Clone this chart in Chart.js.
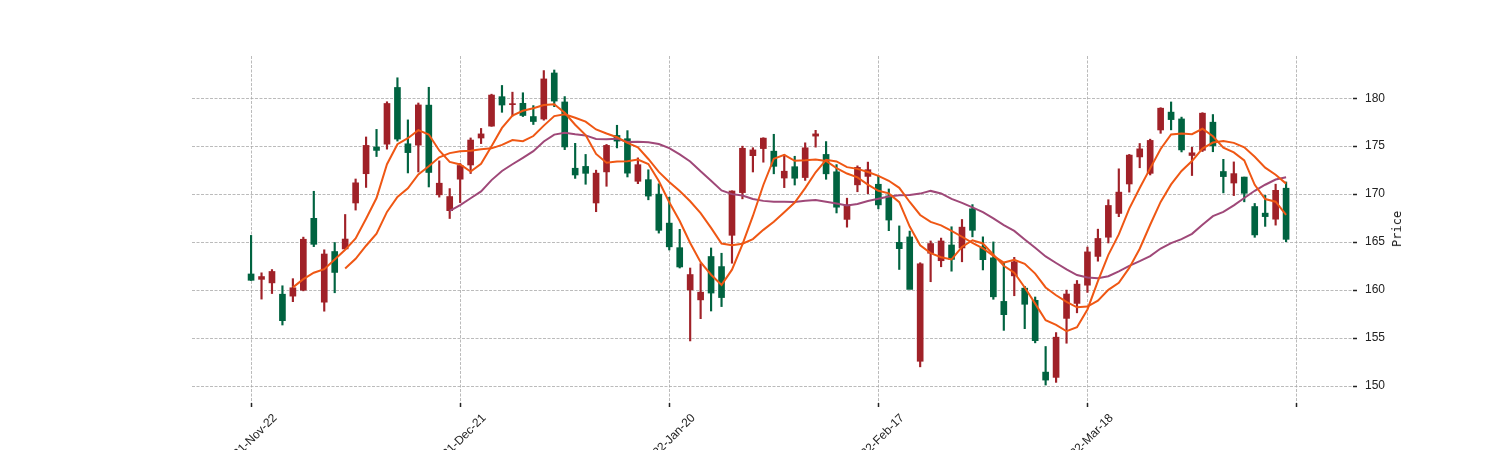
<!DOCTYPE html>
<html>
<head>
<meta charset="utf-8">
<script src="https://cdn.jsdelivr.net/npm/chart.js@4/dist/chart.umd.min.js"></script>
<style>
  html, body { margin: 0; padding: 0; background: #fff; overflow: hidden; }
  #wrap { position: relative; width: 1500px; height: 450px; }
  #priceLabel {
    position: absolute; left: 1397px; top: 229px;
    transform: translate(-50%, -50%) rotate(-90deg);
    font: 12px "DejaVu Sans Mono", monospace; color: #222; white-space: nowrap;
  }
</style>
</head>
<body>
<div id="wrap">
  <canvas id="candles" width="1500" height="450"></canvas>
  <div id="priceLabel">Price</div>
</div>
<script>
// AAPL daily, 2021-11-22 .. 2022-04-14 (100 sessions)
const dates = [
  '2021-Nov-22','2021-Nov-23','2021-Nov-24','2021-Nov-26','2021-Nov-29','2021-Nov-30',
  '2021-Dec-01','2021-Dec-02','2021-Dec-03','2021-Dec-06','2021-Dec-07','2021-Dec-08','2021-Dec-09','2021-Dec-10',
  '2021-Dec-13','2021-Dec-14','2021-Dec-15','2021-Dec-16','2021-Dec-17','2021-Dec-20','2021-Dec-21','2021-Dec-22',
  '2021-Dec-23','2021-Dec-27','2021-Dec-28','2021-Dec-29','2021-Dec-30','2021-Dec-31',
  '2022-Jan-03','2022-Jan-04','2022-Jan-05','2022-Jan-06','2022-Jan-07','2022-Jan-10','2022-Jan-11','2022-Jan-12',
  '2022-Jan-13','2022-Jan-14','2022-Jan-18','2022-Jan-19','2022-Jan-20','2022-Jan-21','2022-Jan-24','2022-Jan-25',
  '2022-Jan-26','2022-Jan-27','2022-Jan-28','2022-Jan-31',
  '2022-Feb-01','2022-Feb-02','2022-Feb-03','2022-Feb-04','2022-Feb-07','2022-Feb-08','2022-Feb-09','2022-Feb-10',
  '2022-Feb-11','2022-Feb-14','2022-Feb-15','2022-Feb-16','2022-Feb-17','2022-Feb-18','2022-Feb-22','2022-Feb-23',
  '2022-Feb-24','2022-Feb-25','2022-Feb-28',
  '2022-Mar-01','2022-Mar-02','2022-Mar-03','2022-Mar-04','2022-Mar-07','2022-Mar-08','2022-Mar-09','2022-Mar-10',
  '2022-Mar-11','2022-Mar-14','2022-Mar-15','2022-Mar-16','2022-Mar-17','2022-Mar-18','2022-Mar-21','2022-Mar-22',
  '2022-Mar-23','2022-Mar-24','2022-Mar-25','2022-Mar-28','2022-Mar-29','2022-Mar-30','2022-Mar-31',
  '2022-Apr-01','2022-Apr-04','2022-Apr-05','2022-Apr-06','2022-Apr-07','2022-Apr-08','2022-Apr-11','2022-Apr-12',
  '2022-Apr-13','2022-Apr-14'
];

const open = [
  161.68,161.12,160.75,159.57,159.37,159.99,167.48,158.74,164.02,164.29,169.08,172.13,174.91,175.21,
  181.12,175.25,175.11,179.28,169.93,168.28,171.56,173.04,175.85,177.09,180.16,179.33,179.47,178.09,
  177.83,182.63,179.61,172.70,172.89,169.08,172.32,176.12,175.78,171.34,171.51,170.00,166.98,164.42,
  160.02,158.98,163.50,162.45,165.71,170.16,174.01,174.75,174.48,171.68,172.86,171.73,176.05,174.14,
  172.33,167.37,170.97,171.85,171.03,169.82,164.98,165.54,152.58,163.84,163.06,164.70,164.39,168.47,
  164.49,163.36,158.82,161.48,160.20,158.93,151.45,150.90,157.05,158.61,160.51,163.51,165.51,167.99,
  171.06,173.88,172.17,176.69,178.55,177.84,174.03,174.57,177.50,172.36,171.16,171.78,168.71,168.02,
  167.39,170.62
];
const high = [
  165.70,161.80,162.14,160.45,161.19,165.52,170.30,164.20,164.96,167.88,171.58,175.96,176.75,179.63,
  182.13,177.74,179.50,181.14,173.47,170.58,173.20,175.86,176.85,180.42,181.33,180.63,180.57,179.23,
  182.88,182.94,180.17,175.30,174.14,172.50,175.18,177.18,176.62,173.78,172.54,171.08,169.68,166.33,
  162.30,162.76,164.39,163.84,170.35,175.00,174.84,175.88,176.24,174.10,173.95,175.35,176.65,175.48,
  173.08,169.58,172.95,173.34,171.91,170.54,166.69,166.15,162.85,165.12,165.42,166.60,167.36,168.91,
  165.55,165.02,162.88,163.41,160.39,159.28,154.12,155.57,160.00,161.00,164.48,166.35,169.42,172.64,
  174.14,175.28,175.73,179.01,179.61,178.03,174.88,178.49,178.30,173.63,173.36,171.78,169.03,169.87,
  171.04,171.27
];
const low = [
  161.00,159.06,159.64,156.36,158.79,159.92,164.53,157.80,159.72,164.28,168.34,170.70,173.92,174.69,
  175.53,172.21,172.31,170.75,169.69,167.46,169.12,172.15,175.27,177.07,178.53,178.14,178.09,177.26,
  177.71,179.12,174.64,171.64,171.03,168.17,170.82,174.82,171.79,171.09,169.41,165.94,164.18,162.30,
  154.70,157.02,157.82,158.28,162.80,169.51,172.31,173.33,172.12,170.68,170.95,171.43,174.90,171.55,
  168.04,166.56,170.25,170.05,168.47,166.19,162.15,160.87,152.00,160.87,162.43,161.97,162.95,165.55,
  162.10,159.04,155.80,159.41,155.98,154.50,150.10,150.38,154.46,157.63,159.76,163.01,164.91,167.65,
  170.21,172.75,172.00,176.34,176.70,174.40,171.94,174.44,174.42,170.13,169.85,169.20,165.50,166.64,
  166.77,165.04
];
const close = [
  161.02,161.41,161.94,156.81,160.24,165.30,164.77,163.76,161.84,165.32,171.18,175.08,174.56,179.45,
  175.74,174.33,179.30,172.26,171.14,169.75,172.99,175.64,176.28,180.33,179.29,179.38,178.20,177.57,
  182.01,179.70,174.92,172.00,172.17,172.19,175.08,175.53,172.19,173.07,169.80,166.23,164.51,162.41,
  161.62,159.78,159.69,159.22,170.33,174.78,174.61,175.84,172.90,172.39,171.66,174.83,176.28,172.12,
  168.64,168.88,172.79,172.55,168.88,167.30,164.32,160.07,162.74,164.85,165.12,163.20,166.56,166.23,
  163.17,159.30,157.44,162.95,158.52,154.73,150.62,155.09,159.59,160.62,163.98,165.38,168.82,170.21,
  174.07,174.72,175.60,178.96,177.77,174.61,174.31,178.44,175.06,171.83,172.14,170.09,165.75,167.66,
  170.40,165.29
];

// moving averages of the close, as in the original (5, 10, 20 sessions)
const mavPeriods = [5, 10, 20];
const mavColors = ['#ef5714', '#ef5714', '#9f4878'];

const upColor = '#a02128';
const downColor = '#006340';

function movingAverage(values, n) {
  return values.map((v, i) => {
    if (i < n - 1) return { x: i, y: null };
    let s = 0;
    for (let k = i - n + 1; k <= i; k++) s += values[k];
    return { x: i, y: s / n };
  });
}

const candleColors = close.map((c, i) => c >= open[i] ? upColor : downColor);
const wickData = high.map((h, i) => ({ x: i, y: [low[i], h] }));
const bodyData = close.map((c, i) => ({ x: i, y: [open[i], c] }));

const datasets = [];
mavPeriods.forEach((n, k) => {
  datasets.push({
    type: 'line',
    label: 'MA' + n,
    data: movingAverage(close, n),
    borderColor: mavColors[k],
    borderWidth: 2,
    pointRadius: 0,
    tension: 0,
    order: 0
  });
});
datasets.push({
  type: 'bar',
  label: 'body',
  data: bodyData,
  backgroundColor: candleColors,
  borderWidth: 0,
  barThickness: 6,
  minBarLength: 1,
  grouped: false,
  order: 1
});
datasets.push({
  type: 'bar',
  label: 'wick',
  data: wickData,
  backgroundColor: candleColors,
  borderWidth: 0,
  barThickness: 1.5,
  grouped: false,
  order: 2
});

const gridGray = '#a9a9a9';

new Chart(document.getElementById('candles'), {
  type: 'bar',
  data: { datasets: datasets },
  options: {
    responsive: false,
    animation: false,
    events: [],
    layout: { padding: { left: 192, top: 56, right: 0, bottom: 0 } },
    plugins: { legend: { display: false }, tooltip: { enabled: false } },
    scales: {
      x: {
        type: 'linear',
        min: -5.65,
        max: 105.4,
        offset: false,
        border: { display: false, dash: [3, 1.5] },
        grid: { offset: false, color: gridGray, lineWidth: 0.8, tickColor: '#222', tickLength: 4, tickWidth: 1.5, tickBorderDash: [] },
        ticks: {
          stepSize: 20,
          includeBounds: false,
          autoSkip: false,
          minRotation: 45,
          maxRotation: 45,
          labelOffset: 24,
          padding: 4,
          color: '#222',
          font: { family: '"Liberation Sans Narrow", "Liberation Sans", sans-serif', size: 12 },
          callback: v => dates[v] || ''
        },
        afterFit: s => { s.height = 47; s.paddingLeft = 0; s.paddingRight = 0; }
      },
      y: {
        position: 'right',
        min: 148.23,
        max: 184.4,
        border: { display: false, dash: [3, 1.5] },
        grid: { color: gridGray, lineWidth: 0.8, tickColor: '#222', tickLength: 4, tickWidth: 1.5, tickBorderDash: [] },
        ticks: {
          stepSize: 5,
          includeBounds: false,
          padding: 8,
          color: '#222',
          font: { family: '"Liberation Sans Narrow", "Liberation Sans", sans-serif', size: 12 }
        },
        afterFit: s => { s.width = 147; s.paddingTop = 0; s.paddingBottom = 0; }
      }
    }
  }
});
</script>
</body>
</html>
